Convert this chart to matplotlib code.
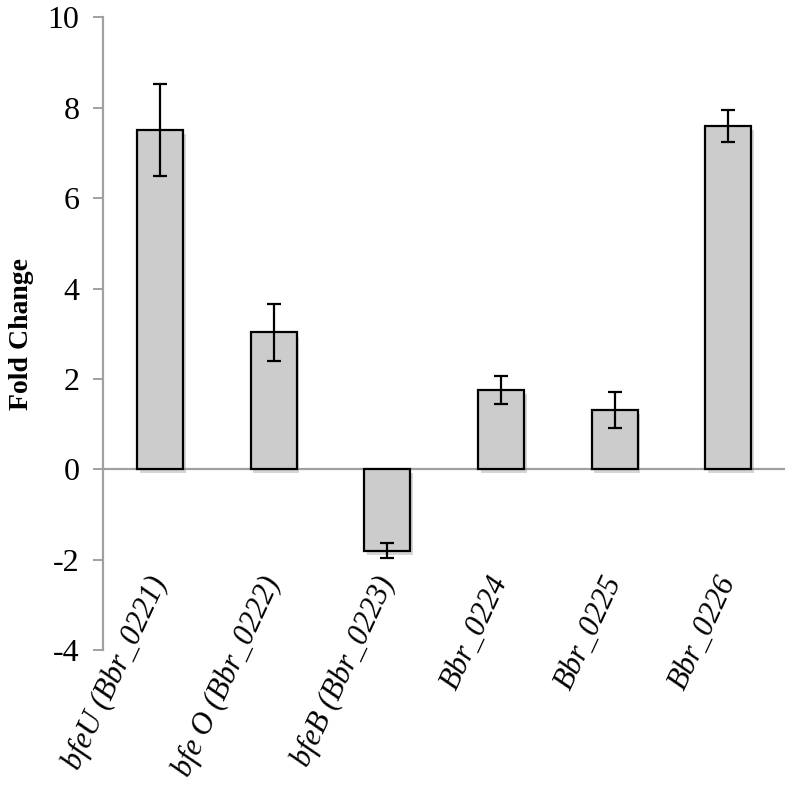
import numpy as np
import matplotlib.pyplot as plt
import matplotlib.patheffects as pe

genes = ["bfeU (Bbr_0221)", "bfe O (Bbr_0222)", "bfeB (Bbr_0223)",
         "Bbr_0224", "Bbr_0225", "Bbr_0226"]
fold_change = [7.5, 3.03, -1.8, 1.75, 1.31, 7.59]
errors = [1.02, 0.63, 0.16, 0.31, 0.39, 0.35]

plt.rcParams['font.family'] = ['Liberation Serif', 'DejaVu Serif']

fig = plt.figure(figsize=(7.93, 7.88), dpi=100)
ax = fig.add_axes([0.130, 0.175, 0.860, 0.803])

x = np.arange(len(genes))
bars = ax.bar(x, fold_change, width=0.405, color='#cccccc',
              edgecolor='black', linewidth=1.6, zorder=3)
for b in bars:
    b.set_path_effects([pe.SimplePatchShadow(offset=(2, -3), shadow_rgbFace='#888888', alpha=0.35),
                        pe.Normal()])
ax.errorbar(x, fold_change, yerr=errors, fmt='none', ecolor='black',
            elinewidth=1.6, capsize=5, capthick=1.6, zorder=4)

# zero line
ax.axhline(0, color='#a0a0a0', linewidth=1.6, zorder=2)

ax.set_xlim(-0.5, 5.5)
ax.set_ylim(-4, 10)
ax.set_yticks(np.arange(-4, 11, 2))
ax.set_yticklabels([str(v) for v in range(-4, 11, 2)], fontsize=23)

ax.set_xticks(x)
ax.set_xticklabels(genes, rotation=65, ha='right', va='center',
                   rotation_mode='anchor', fontsize=22, style='italic')
ax.tick_params(axis='x', length=0, pad=-52)
ax.tick_params(axis='y', direction='out', length=7, width=1.4, color='#a0a0a0', pad=10)

for s in ['top', 'right', 'bottom']:
    ax.spines[s].set_visible(False)
ax.spines['left'].set_color('#a0a0a0')
ax.spines['left'].set_linewidth(1.6)

ax.set_ylabel('Fold Change', fontsize=20, fontweight='bold', labelpad=10)

fig.savefig('out.png', dpi=100)
